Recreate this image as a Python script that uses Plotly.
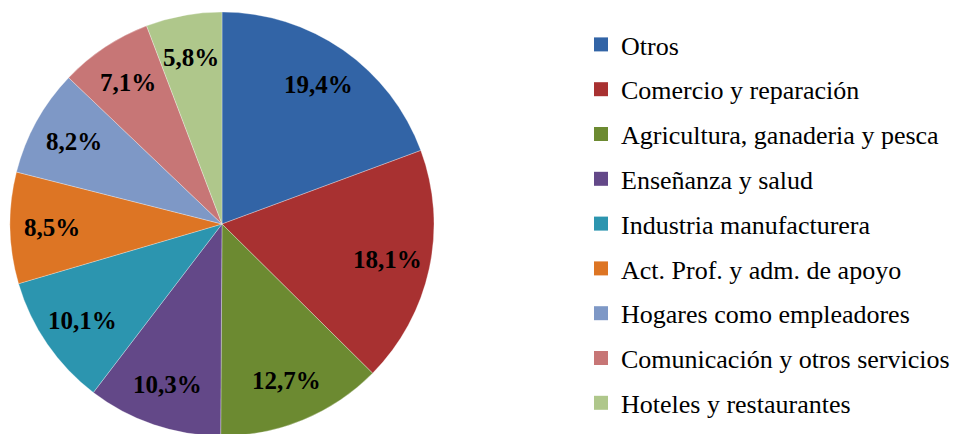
import math
import plotly.graph_objects as go

sectores = [
    "Otros",
    "Comercio y reparación",
    "Agricultura, ganaderia y pesca",
    "Enseñanza y salud",
    "Industria manufacturera",
    "Act. Prof. y adm. de apoyo",
    "Hogares como empleadores",
    "Comunicación y otros servicios",
    "Hoteles y restaurantes",
]
porcentajes = [19.4, 18.1, 12.7, 10.3, 10.1, 8.5, 8.2, 7.1, 5.8]
colores = [
    "#3264A6", "#A83131", "#6C8A31", "#634888", "#2C95AF",
    "#DD7524", "#7E98C6", "#C77676", "#AFC78B",
]

SERIF = "Liberation Serif, Times New Roman, serif"
W, H = 961, 434
dom_x = [2 / W, 426 / W]
dom_y = [6 / H, 430 / H]

fig = go.Figure()

fig.add_trace(go.Pie(
    labels=sectores,
    values=porcentajes,
    sort=False,
    direction="clockwise",
    rotation=0,
    marker=dict(colors=colores, line=dict(color="white", width=0.3)),
    textinfo="none",
    hoverinfo="label+percent",
    showlegend=False,
    domain=dict(x=dom_x, y=dom_y),
))

# percentage labels at ~0.82 of the radius on each slice's mid angle (Excel "best fit")
cx = (dom_x[0] + dom_x[1]) / 2 * W
cy = (dom_y[0] + dom_y[1]) / 2 * H
radio = min((dom_x[1] - dom_x[0]) * W, (dom_y[1] - dom_y[0]) * H) / 2
total = sum(porcentajes)
acum = 0
for v in porcentajes:
    ang = 2 * math.pi * (acum + v / 2) / total
    acum += v
    px = cx + 0.8 * radio * math.sin(ang)
    py = cy + 0.8 * radio * math.cos(ang)
    fig.add_annotation(
        x=px / W, y=py / H, xref="paper", yref="paper",
        xanchor="center", yanchor="middle",
        text=f"{v:.1f}%".replace(".", ","),
        showarrow=False,
        font=dict(family=SERIF, size=25, color="black", weight="bold"),
    )

# legend entries as separate traces so the row spacing can be set
for nombre, color in zip(sectores, colores):
    fig.add_trace(go.Scatter(
        x=[None], y=[None],
        mode="markers",
        name=nombre,
        legendgroup=nombre,
        marker=dict(symbol="square", size=14, color=color),
    ))

fig.update_layout(
    width=W,
    height=H,
    margin=dict(l=0, r=0, t=0, b=0),
    paper_bgcolor="white",
    plot_bgcolor="white",
    separators=",.",
    font=dict(family=SERIF, size=26, color="black"),
    xaxis=dict(visible=False),
    yaxis=dict(visible=False),
    legend=dict(
        x=573 / W, y=1 - 13 / H,
        xanchor="left", yanchor="top",
        font=dict(family=SERIF, size=26, color="black"),
        tracegroupgap=8,
        itemclick=False,
    ),
)

fig.write_html("out.html")
